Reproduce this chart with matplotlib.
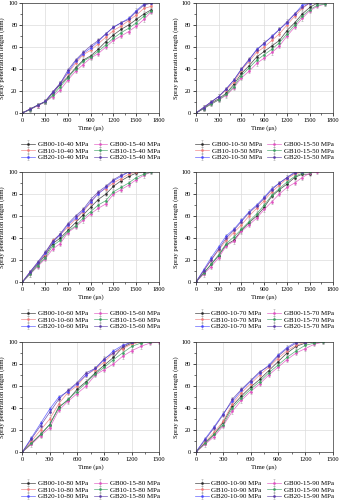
import matplotlib
matplotlib.use("Agg")
import matplotlib.pyplot as plt
from matplotlib.ticker import MultipleLocator, AutoMinorLocator

plt.rcParams['font.family'] = ['Liberation Serif', 'DejaVu Serif']

# time axis (us), every 100 us
t = [0, 100, 200, 300, 400, 500, 600, 700, 800, 900,
     1000, 1100, 1200, 1300, 1400, 1500, 1600, 1700]

names = ['GB00-10', 'GB10-10', 'GB20-10', 'GB00-15', 'GB10-15', 'GB20-15']
colors = ['#2a2a2a', '#f07a7a', '#4a4aff', '#e050c0', '#3aa060', '#5a3aa8']
pressures = [40, 50, 60, 70, 80, 90]
xmax = [1800, 1800, 1800, 1800, 1500, 1500]

# spray penetration length (mm), order as in names
p40 = [
    [0, 3.5, 7, 10, 18, 26, 33, 41, 48, 52, 58, 65, 71, 76, 80, 85, 90, 94],
    [0, 3.5, 7, 10.5, 19, 27, 36, 45, 53, 57, 63, 69, 75, 79, 84, 89, 95, 97],
    [0, 3.5, 7, 10.5, 19, 27, 37, 47, 54, 59, 65, 72, 78, 82, 86, 93, 99, 100],
    [0, 3, 6.5, 10, 15, 21, 30, 38, 44, 50, 54, 60, 66, 70, 74, 79, 85, 92],
    [0, 3, 7, 10, 16, 24, 32, 40, 47, 51, 56, 62, 68, 73, 77, 82, 88, 93],
    [0, 3.5, 7, 10.5, 19, 27, 39, 48, 55, 61, 66, 72, 78, 82, 85, 92, 98, 100],
]
p50 = [
    [0, 4, 9, 13, 18, 26, 36, 43, 51, 56, 61, 66, 75, 82, 90, 96, 100],
    [0, 5, 10, 15, 21, 28, 39, 47, 55, 60, 66, 72, 80, 88, 95, 100],
    [0, 5, 10, 15, 22, 30, 40, 48, 58, 63, 70, 76, 82, 90, 98, 100],
    [0, 4, 8, 12, 16, 23, 32, 38, 45, 50, 55, 61, 70, 78, 86, 93, 97, 99],
    [0, 4, 8, 12, 17, 24, 34, 41, 48, 53, 58, 64, 72, 80, 88, 94, 98, 99],
    [0, 5, 10, 15, 22, 30, 40, 49, 57, 64, 69, 76, 83, 90, 96, 100],
]
p60 = [
    [0, 8, 16, 24, 35, 40, 47, 54, 61, 68, 75, 80, 87, 92, 96, 99, 100],
    [0, 9, 17, 25, 38, 43, 50, 57, 64, 72, 81, 85, 90, 94, 98, 100],
    [0, 9, 17, 26, 36, 43, 52, 58, 65, 73, 80, 86, 92, 96, 100],
    [0, 7, 14, 21, 30, 35, 45, 50, 56, 62, 67, 71, 80, 84, 88, 93, 97, 100],
    [0, 7, 15, 22, 33, 38, 46, 51, 58, 64, 70, 74, 82, 86, 90, 95, 98, 100],
    [0, 9, 18, 27, 37, 44, 53, 60, 66, 75, 82, 87, 93, 97, 100],
]
p70 = [
    [0, 8, 16, 24, 34, 38, 47, 54, 60, 68, 78, 84, 89, 95, 98, 98],
    [0, 10, 20, 29, 38, 45, 52, 60, 67, 74, 82, 88, 94, 98, 100],
    [0, 11, 22, 32, 42, 48, 56, 64, 70, 77, 85, 90, 95, 100],
    [0, 7, 14, 22, 33, 37, 46, 52, 58, 66, 73, 80, 86, 90, 95, 99, 100],
    [0, 8, 16, 25, 35, 41, 48, 55, 62, 70, 79, 85, 91, 96, 99, 100],
    [0, 10, 20, 30, 40, 47, 55, 63, 69, 76, 84, 90, 95, 99, 100],
]
p80 = [
    [0, 8, 16, 25, 41, 47, 57, 64, 72, 79, 86, 95, 99, 100],
    [0, 10, 20, 30, 44, 54, 60, 70, 75, 82, 90, 94, 98, 100],
    [0, 13, 26, 39, 50, 55, 62, 70, 76, 84, 92, 97, 100],
    [0, 7, 15, 22, 38, 46, 53, 60, 70, 75, 80, 87, 92, 96, 99, 100],
    [0, 8, 16, 25, 40, 48, 55, 63, 71, 77, 84, 90, 96, 99, 100],
    [0, 12, 24, 36, 48, 56, 63, 72, 76, 85, 90, 96, 100],
]
p90 = [
    [0, 8, 16, 27, 42, 51, 59, 66, 74, 82, 90, 96, 99, 100],
    [0, 9, 18, 28, 44, 54, 62, 70, 77, 85, 92, 97, 100],
    [0, 12, 23, 35, 46, 56, 64, 72, 79, 88, 95, 100, 100],
    [0, 7, 14, 24, 37, 47, 55, 62, 70, 77, 84, 90, 94, 98, 100],
    [0, 8, 16, 25, 40, 49, 57, 64, 72, 79, 86, 92, 97, 99, 100],
    [0, 11, 22, 34, 48, 57, 65, 73, 78, 87, 94, 99, 100],
]
panels = [p40, p50, p60, p70, p80, p90]
err = 2.0  # error bar half-width (mm)

fig = plt.figure(figsize=(3.39, 5.0), dpi=100)

lefts = [0.066, 0.578]
bottoms = [0.774, 0.436, 0.096]
w, h = 0.403, 0.22

for i, data in enumerate(panels):
    ax = fig.add_axes([lefts[i % 2], bottoms[i // 2], w, h])
    for k, y in enumerate(data):
        x = t[:len(y)]
        ax.errorbar(x, y, yerr=err, color=colors[k], lw=0.5, marker='o',
                    ms=1.0, ecolor='#a0a0a0', elinewidth=0.4, capsize=1.0,
                    capthick=0.4, alpha=0.85,
                    label='%s-%d MPa' % (names[k], pressures[i]))
    ax.set_xlim(0, xmax[i])
    ax.set_ylim(0, 100)
    ax.xaxis.set_major_locator(MultipleLocator(300))
    ax.yaxis.set_major_locator(MultipleLocator(20))
    ax.xaxis.set_minor_locator(AutoMinorLocator(2))
    ax.yaxis.set_minor_locator(AutoMinorLocator(2))
    ax.grid(True, color='#dcdcdc', lw=0.5)
    ax.set_axisbelow(True)
    ax.tick_params(which='major', length=2, width=0.5, labelsize=4.6, pad=1.5)
    ax.tick_params(which='minor', length=1.2, width=0.4)
    for s in ax.spines.values():
        s.set_linewidth(0.5)
        s.set_color('#333333')
    ax.set_xlabel('Time (μs)', fontsize=4.8, labelpad=2)
    ax.set_ylabel('Spray penetration length (mm)', fontsize=4.8, labelpad=2)
    ax.legend(ncol=2, loc='upper center', bbox_to_anchor=(0.5, -0.225),
              frameon=False, fontsize=5, borderpad=0, labelspacing=0.1,
              handlelength=2.0, handletextpad=0.4, columnspacing=0.8)

fig.savefig('out.png', dpi=100)
